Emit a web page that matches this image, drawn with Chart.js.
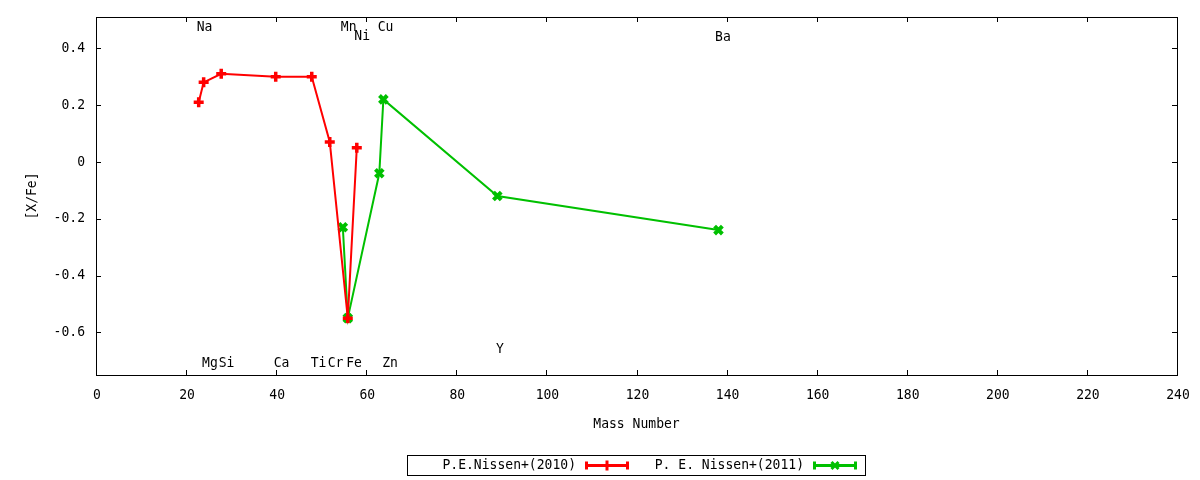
<!DOCTYPE html>
<html>
<head>
<meta charset="utf-8">
<script src="https://cdn.jsdelivr.net/npm/chart.js@4"></script>
<style>
html,body{margin:0;padding:0;background:#fff;}
#wrap{width:1200px;height:480px;position:relative;}
</style>
</head>
<body>
<div id="wrap"><canvas id="c" width="1200" height="480"></canvas></div>
<script>
// ---- data ----
const seriesNames = ['P.E.Nissen+(2010)', 'P. E. Nissen+(2011)'];
const massRed = [22.8, 23.9, 27.8, 39.9, 47.9, 51.9, 55.9, 57.9];
const valRed = [0.21, 0.28, 0.31, 0.30, 0.30, 0.07, -0.55, 0.05];
const massGreen = [54.8, 55.9, 62.9, 63.8, 89.1, 138.2];
const valGreen = [-0.23, -0.55, -0.04, 0.22, -0.12, -0.24];
const elementNames = ['Na','Mg','Si','Ca','Ti','Cr','Mn','Fe','Ni','Cu','Zn','Y','Ba'];
const elementX = [24.1, 25.3, 29.0, 41.2, 49.4, 53.2, 56.1, 57.3, 59.1, 64.3, 65.3, 89.7, 139.2];
const elementY = [0.475, -0.707, -0.707, -0.707, -0.707, -0.707, 0.475, -0.707, 0.441, 0.475, -0.707, -0.658, 0.44];
const xTicks = [0, 20, 40, 60, 80, 100, 120, 140, 160, 180, 200, 220, 240];
const yTicks = [-0.6, -0.4, -0.2, 0, 0.2, 0.4];
const yTickLabels = ['-0.6', '-0.4', '-0.2', '0', '0.2', '0.4'];
const xTitle = 'Mass Number';
const yTitle = '[X/Fe]';

const FONT = '14.5px "DejaVu Sans Mono", "Liberation Mono", monospace';
const SX = 0.9;
const RED = 'rgb(255,0,0)';
const GREEN = 'rgb(0,192,0)';

function toPts(xs, ys){ return xs.map((x,i)=>({x:x, y:ys[i]})); }

function txt(ctx, s, x, y, align, rot){
  ctx.save();
  ctx.translate(x, y);
  if (rot) ctx.rotate(rot);
  ctx.scale(SX, 1);
  ctx.textAlign = align;
  ctx.textBaseline = 'middle';
  ctx.fillText(s, 0, 0);
  ctx.restore();
}

const decor = {
  id: 'decor',
  afterDraw(chart){
    const ctx = chart.ctx;
    const a = chart.chartArea;
    const xs = chart.scales.x, ys = chart.scales.y;
    ctx.save();
    // frame
    ctx.strokeStyle = '#000';
    ctx.lineWidth = 1;
    ctx.strokeRect(Math.round(a.left)+0.5, Math.round(a.top)+0.5, Math.round(a.right-a.left), Math.round(a.bottom-a.top));
    // inward ticks, mirrored
    const tl = 5;
    ctx.beginPath();
    xTicks.forEach(v=>{
      const px = Math.round(xs.getPixelForValue(v))+0.5;
      ctx.moveTo(px, a.bottom); ctx.lineTo(px, a.bottom - tl);
      ctx.moveTo(px, a.top); ctx.lineTo(px, a.top + tl);
    });
    yTicks.forEach(v=>{
      const py = Math.round(ys.getPixelForValue(v))+0.5;
      ctx.moveTo(a.left, py); ctx.lineTo(a.left + tl, py);
      ctx.moveTo(a.right, py); ctx.lineTo(a.right - tl, py);
    });
    ctx.stroke();
    ctx.fillStyle = '#000';
    ctx.font = FONT;
    // tick labels
    xTicks.forEach(v=>{
      txt(ctx, String(v), xs.getPixelForValue(v) + 1, a.bottom + 20, 'center');
    });
    yTicks.forEach((v,i)=>{
      txt(ctx, yTickLabels[i], a.left - 11, ys.getPixelForValue(v), 'right');
    });
    // element labels
    elementNames.forEach((n,i)=>{
      txt(ctx, n, xs.getPixelForValue(elementX[i]), ys.getPixelForValue(elementY[i]), 'center');
    });
    // axis titles
    const cx = (a.left + a.right)/2;
    txt(ctx, xTitle, cx, 424, 'center');
    txt(ctx, yTitle, 32, (a.top + a.bottom)/2, 'center', -Math.PI/2);
    // legend
    const boxW = 458, boxH = 20, colW = 228;
    const bx = Math.round(cx - boxW/2) - 1, by = 455;
    ctx.strokeRect(bx+0.5, by+0.5, boxW, boxH);
    const colors = [RED, GREEN];
    const styles = ['cross', 'crossRot'];
    seriesNames.forEach((name,i)=>{
      const tEnd = bx + 169 + colW*i;
      const ly = by + boxH/2 + 0.5;
      ctx.fillStyle = '#000';
      txt(ctx, name, tEnd, ly, 'right');
      const s0 = tEnd + 9, s1 = tEnd + 53;
      ctx.strokeStyle = colors[i];
      ctx.lineWidth = 3;
      ctx.beginPath();
      ctx.moveTo(s0, ly); ctx.lineTo(s1, ly);
      ctx.moveTo(s0+1.5, ly-4); ctx.lineTo(s0+1.5, ly+4);
      ctx.moveTo(s1-1.5, ly-4); ctx.lineTo(s1-1.5, ly+4);
      ctx.stroke();
      Chart.helpers.drawPoint(ctx, {pointStyle: styles[i], radius: 5, borderWidth: 3.5}, (s0+s1)/2, ly);
      ctx.strokeStyle = '#000';
      ctx.lineWidth = 1;
    });
    ctx.restore();
  }
};

new Chart(document.getElementById('c'), {
  type: 'scatter',
  data: {
    datasets: [
      {
        label: seriesNames[0],
        data: toPts(massRed, valRed),
        showLine: true,
        borderColor: RED,
        backgroundColor: RED,
        borderWidth: 2,
        pointStyle: 'cross',
        pointRadius: 5,
        pointBorderWidth: 3.5,
        pointHoverRadius: 5
      },
      {
        label: seriesNames[1],
        data: toPts(massGreen, valGreen),
        showLine: true,
        borderColor: GREEN,
        backgroundColor: GREEN,
        borderWidth: 2,
        pointStyle: 'crossRot',
        pointRadius: 5.5,
        pointBorderWidth: 4,
        pointHoverRadius: 5.5
      }
    ]
  },
  options: {
    responsive: false,
    animation: false,
    events: [],
    layout: { padding: { left: 0, right: 23, top: 17, bottom: 0 } },
    plugins: { legend: { display: false }, tooltip: { enabled: false } },
    scales: {
      x: {
        type: 'linear',
        min: 0, max: 240,
        grid: { display: false, drawTicks: false },
        border: { display: false },
        afterBuildTicks: s => { s.ticks = xTicks.map(v=>({value:v})); },
        afterFit: s => { s.height = 105; },
        ticks: { display: false }
      },
      y: {
        type: 'linear',
        min: -0.75, max: 0.51,
        grid: { display: false, drawTicks: false },
        border: { display: false },
        afterBuildTicks: s => { s.ticks = yTicks.map(v=>({value:v})); },
        afterFit: s => { s.width = 96; },
        ticks: { display: false }
      }
    }
  },
  plugins: [decor]
});
</script>
</body>
</html>
